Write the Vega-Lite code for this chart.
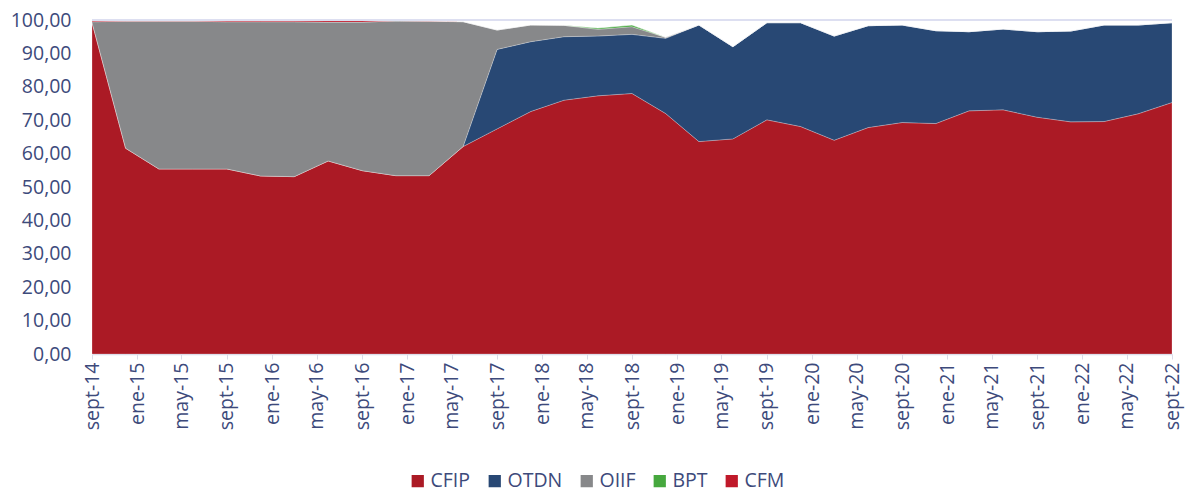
{
  "$schema": "https://vega.github.io/schema/vega-lite/v6.json",
  "autosize": "none",
  "width": 1080,
  "height": 334,
  "padding": {"left": 92, "top": 20, "right": 13, "bottom": 137},
  "background": "white",
  "config": {
    "view": {"stroke": null},
    "font": "Open Sans",
    "axis": {"labelFont": "Open Sans", "labelColor": "#3d4a7b", "labelFontSize": 19.5},
    "legend": {"labelFont": "Open Sans", "labelColor": "#3d4a7b", "labelFontSize": 19.5}
  },
  "data": {
    "values": [
      {"date": "2014-09-01", "CFIP": 99.3, "OTDN": 0, "OIIF": 0.2, "BPT": 0, "CFM": 0.5},
      {"date": "2014-12-01", "CFIP": 61.6, "OTDN": 0, "OIIF": 38.0, "BPT": 0, "CFM": 0.4},
      {"date": "2015-03-01", "CFIP": 55.4, "OTDN": 0, "OIIF": 44.2, "BPT": 0, "CFM": 0.4},
      {"date": "2015-06-01", "CFIP": 55.4, "OTDN": 0, "OIIF": 44.2, "BPT": 0, "CFM": 0.4},
      {"date": "2015-09-01", "CFIP": 55.4, "OTDN": 0, "OIIF": 44.1, "BPT": 0, "CFM": 0.4},
      {"date": "2015-12-01", "CFIP": 53.3, "OTDN": 0, "OIIF": 46.2, "BPT": 0, "CFM": 0.4},
      {"date": "2016-03-01", "CFIP": 53.1, "OTDN": 0, "OIIF": 46.4, "BPT": 0, "CFM": 0.4},
      {"date": "2016-06-01", "CFIP": 57.8, "OTDN": 0, "OIIF": 41.6, "BPT": 0, "CFM": 0.5},
      {"date": "2016-09-01", "CFIP": 54.9, "OTDN": 0, "OIIF": 44.5, "BPT": 0, "CFM": 0.5},
      {"date": "2016-12-01", "CFIP": 53.4, "OTDN": 0, "OIIF": 46.3, "BPT": 0, "CFM": 0.2},
      {"date": "2017-03-01", "CFIP": 53.4, "OTDN": 0, "OIIF": 46.2, "BPT": 0, "CFM": 0.1},
      {"date": "2017-06-01", "CFIP": 62.1, "OTDN": 0, "OIIF": 37.4, "BPT": 0, "CFM": 0},
      {"date": "2017-09-01", "CFIP": 67.4, "OTDN": 23.8, "OIIF": 5.8, "BPT": 0, "CFM": 0},
      {"date": "2017-12-01", "CFIP": 72.6, "OTDN": 20.9, "OIIF": 5.0, "BPT": 0, "CFM": 0},
      {"date": "2018-03-01", "CFIP": 76.0, "OTDN": 19.0, "OIIF": 3.4, "BPT": 0, "CFM": 0},
      {"date": "2018-06-01", "CFIP": 77.3, "OTDN": 17.9, "OIIF": 2.0, "BPT": 0.4, "CFM": 0},
      {"date": "2018-09-01", "CFIP": 78.0, "OTDN": 17.7, "OIIF": 2.3, "BPT": 0.5, "CFM": 0},
      {"date": "2018-12-01", "CFIP": 72.0, "OTDN": 22.5, "OIIF": 0.3, "BPT": 0, "CFM": 0},
      {"date": "2019-03-01", "CFIP": 63.6, "OTDN": 34.9, "OIIF": 0, "BPT": 0, "CFM": 0},
      {"date": "2019-06-01", "CFIP": 64.4, "OTDN": 27.6, "OIIF": 0, "BPT": 0, "CFM": 0},
      {"date": "2019-09-01", "CFIP": 70.1, "OTDN": 29.1, "OIIF": 0, "BPT": 0, "CFM": 0},
      {"date": "2019-12-01", "CFIP": 68.1, "OTDN": 31.1, "OIIF": 0, "BPT": 0, "CFM": 0},
      {"date": "2020-03-01", "CFIP": 64.0, "OTDN": 31.2, "OIIF": 0, "BPT": 0, "CFM": 0},
      {"date": "2020-06-01", "CFIP": 67.8, "OTDN": 30.5, "OIIF": 0, "BPT": 0, "CFM": 0},
      {"date": "2020-09-01", "CFIP": 69.3, "OTDN": 29.2, "OIIF": 0, "BPT": 0, "CFM": 0},
      {"date": "2020-12-01", "CFIP": 69.0, "OTDN": 27.8, "OIIF": 0, "BPT": 0, "CFM": 0},
      {"date": "2021-03-01", "CFIP": 72.8, "OTDN": 23.7, "OIIF": 0, "BPT": 0, "CFM": 0},
      {"date": "2021-06-01", "CFIP": 73.1, "OTDN": 24.2, "OIIF": 0, "BPT": 0, "CFM": 0},
      {"date": "2021-09-01", "CFIP": 70.9, "OTDN": 25.6, "OIIF": 0, "BPT": 0, "CFM": 0},
      {"date": "2021-12-01", "CFIP": 69.5, "OTDN": 27.2, "OIIF": 0, "BPT": 0, "CFM": 0},
      {"date": "2022-03-01", "CFIP": 69.6, "OTDN": 28.9, "OIIF": 0, "BPT": 0, "CFM": 0},
      {"date": "2022-06-01", "CFIP": 71.9, "OTDN": 26.6, "OIIF": 0, "BPT": 0, "CFM": 0},
      {"date": "2022-09-01", "CFIP": 75.3, "OTDN": 23.9, "OIIF": 0, "BPT": 0, "CFM": 0}
    ]
  },
  "layer": [
    {
      "transform": [
        {"fold": ["CFIP", "OTDN", "OIIF", "BPT", "CFM"], "as": ["serie", "valor"]},
        {"calculate": "indexof(['CFIP','OTDN','OIIF','BPT','CFM'], datum.serie)", "as": "orden"}
      ],
      "mark": {"type": "area", "stroke": "#ffffff", "strokeOpacity": 0.35, "strokeWidth": 0.7},
      "encoding": {
        "x": {
          "field": "date", "type": "temporal",
          "scale": {"type": "utc", "nice": false},
          "axis": {
            "title": null,
            "tickCount": {"interval": "month", "step": 4},
            "labelAngle": -90,
            "labelExpr": "(utcmonth(datum.value) == 0 ? 'ene' : utcmonth(datum.value) == 4 ? 'may' : 'sept') + '-' + utcFormat(datum.value, '%y')",
            "domainColor": "#d9dbe9",
            "domainWidth": 1.5,
            "tickColor": "#d9dbe9",
            "tickSize": 5,
            "labelPadding": 3,
            "grid": false,
            "labelOverlap": false,
            "labelBound": false,
            "labelFlush": false
          }
        },
        "y": {
          "field": "valor", "type": "quantitative", "stack": "zero",
          "scale": {"domain": [0, 100], "nice": false},
          "axis": {
            "title": null,
            "values": [0, 10, 20, 30, 40, 50, 60, 70, 80, 90, 100],
            "labelExpr": "replace(format(datum.value, '.2f'), '.', ',')",
            "domain": false, "ticks": false, "grid": false,
            "labelOverlap": false,
            "labelPadding": 21
          }
        },
        "color": {
          "field": "serie", "type": "nominal",
          "scale": {"domain": ["CFIP", "OTDN", "OIIF", "BPT", "CFM"], "range": ["#ab1a25", "#284874", "#87888a", "#46a83e", "#c0192a"]},
          "legend": {
            "title": null, "orient": "none", "direction": "horizontal",
            "legendX": 316, "legendY": 451,
            "symbolType": "square", "symbolSize": 150, "symbolStrokeWidth": 0,
            "columnPadding": 14, "labelOffset": 3, "labelLimit": 300
          }
        },
        "order": {"field": "orden", "type": "quantitative"}
      }
    },
    {
      "mark": {"type": "rule", "color": "#dcdff0", "strokeWidth": 1.5},
      "encoding": {
        "y": {
          "datum": 100, "type": "quantitative",
          "axis": {
            "title": null,
            "values": [0, 10, 20, 30, 40, 50, 60, 70, 80, 90, 100],
            "labelExpr": "replace(format(datum.value, '.2f'), '.', ',')",
            "domain": false, "ticks": false, "grid": false,
            "labelOverlap": false,
            "labelPadding": 21
          }
        }
      }
    }
  ]
}
